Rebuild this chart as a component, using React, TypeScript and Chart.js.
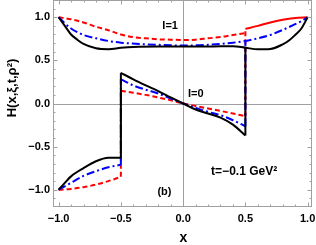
import React, { useEffect, useRef } from "react";
import { Chart, registerables } from "chart.js";

Chart.register(...registerables);

// ---- axis ticks ----
const xTickValues = [-1, -0.5, 0, 0.5, 1];
const yTickValues = [-1, -0.5, 0, 0.5, 1];

// ---- I = 1 curves ----
const i1BlackX = [-1, -0.95, -0.9, -0.85, -0.8, -0.7, -0.6, -0.5, -0.4, -0.2, 0, 0.2, 0.4, 0.5, 0.6, 0.7, 0.8, 0.85, 0.9, 0.95, 1];
const i1BlackY = [1.0, 0.9, 0.8, 0.74, 0.69, 0.64, 0.63, 0.645, 0.655, 0.66, 0.66, 0.66, 0.665, 0.647, 0.628, 0.632, 0.686, 0.73, 0.795, 0.87, 1.0];

const i1BlueX = [-1, -0.95, -0.9, -0.8, -0.7, -0.6, -0.5, -0.3, -0.2, 0, 0.2, 0.4, 0.5, 0.6, 0.7, 0.8, 0.9, 0.95, 1];
const i1BlueY = [1.0, 0.93, 0.87, 0.795, 0.756, 0.725, 0.705, 0.686, 0.68, 0.672, 0.68, 0.705, 0.725, 0.756, 0.795, 0.853, 0.92, 0.955, 1.0];

const i1RedX = [-1, -0.9, -0.8, -0.7, -0.6, -0.5, -0.4, -0.3, -0.2, -0.1, 0, 0.1, 0.2, 0.3, 0.4, 0.5];
const i1RedY = [1.0, 0.977, 0.94, 0.89, 0.85, 0.8, 0.77, 0.756, 0.744, 0.74, 0.736, 0.74, 0.756, 0.77, 0.795, 0.815];

// ---- I = 0 curves: outer left region (-1 .. -0.5) ----
const i0LeftX = [-1, -0.95, -0.9, -0.8, -0.7, -0.6, -0.5];
const i0LeftBlackY = [-1.0, -0.92, -0.845, -0.75, -0.67, -0.63, -0.63];
const i0LeftBlueY = [-1.0, -0.96, -0.92, -0.84, -0.785, -0.74, -0.71];
const i0LeftRedY = [-1.0, -0.997, -0.99, -0.97, -0.94, -0.9, -0.85];

// ---- I = 0 curves: central region (-0.5 .. 0.5) ----
const i0MidX = [-0.5, -0.4, -0.3, -0.2, -0.1, 0, 0.1, 0.2, 0.3, 0.4, 0.5];
const i0MidBlackY = [0.356, 0.28, 0.21, 0.143, 0.07, 0, -0.07, -0.116, -0.163, -0.245, -0.37];
const i0MidBlueY = [0.28, 0.21, 0.16, 0.116, 0.058, 0, -0.05, -0.097, -0.136, -0.194, -0.264];
const i0MidRedY = [0.147, 0.124, 0.1, 0.07, 0.038, 0, -0.028, -0.058, -0.086, -0.116, -0.148];

// ---- I = 0 red, outer right region (0.5 .. 1), solid ----
const i0RightRedX = [0.5, 0.6, 0.7, 0.8, 0.9, 1];
const i0RightRedY = [0.865, 0.9, 0.94, 0.97, 0.99, 1.0];

// ---- labels ----
const annotationTexts = ["I=1", "I=0", "t=\u22120.1 GeV\u00B2", "(b)"];
const annotationX = [-0.104, 0.101, 0.49, -0.15];
const annotationY = [0.9, 0.107, -0.794, -1.026];
const xTitle = "x";
const yTitle = "H(x,\u03BE,t,\u03C1\u00B2)";

const BLACK = "#000000";
const BLUE = "#0000ff";
const RED = "#ff0000";
const FRAME = "#a0a0a0";
const FONT = "'Liberation Sans', Arial, sans-serif";

const pts = (xs: number[], ys: number[]) => xs.map((x, i) => ({ x, y: ys[i] }));
const at = (xs: number[], ys: number[], v: number) => ys[xs.indexOf(v)];

function curve(data: any[], color: string, dash: number[]) {
  return {
    data,
    borderColor: color,
    backgroundColor: color,
    borderWidth: 2,
    borderDash: dash,
    pointRadius: 0,
    pointHoverRadius: 0,
    showLine: true,
    fill: false,
    tension: 0.4,
    cubicInterpolationMode: "monotone",
  };
}
function straight(data: any[], color: string, dash: number[]) {
  return {
    data,
    borderColor: color,
    backgroundColor: color,
    borderWidth: 2,
    borderDash: dash,
    pointRadius: 0,
    pointHoverRadius: 0,
    showLine: true,
    fill: false,
    tension: 0,
  };
}

const SOLID: number[] = [];
const DASHED = [5, 3];
const DASHDOT = [8, 3, 2, 3];

const framePlugin = {
  id: "framePlugin",
  beforeDatasetsDraw(chart: any) {
    const { ctx, chartArea: a, scales } = chart;
    const x0 = Math.round(scales.x.getPixelForValue(0)) + 0.5;
    const y0 = Math.round(scales.y.getPixelForValue(0)) + 0.5;
    ctx.save();
    ctx.strokeStyle = FRAME;
    ctx.lineWidth = 1;
    ctx.beginPath();
    ctx.moveTo(x0, a.top);
    ctx.lineTo(x0, a.bottom);
    ctx.moveTo(a.left, y0);
    ctx.lineTo(a.right, y0);
    ctx.stroke();
    ctx.restore();
  },
  afterDatasetsDraw(chart: any) {
    const { ctx, chartArea: a, scales } = chart;
    ctx.save();
    ctx.strokeStyle = FRAME;
    ctx.lineWidth = 1;
    ctx.strokeRect(a.left + 0.5, a.top + 0.5, a.right - a.left - 1, a.bottom - a.top - 1);
    ctx.beginPath();
    for (let i = -10; i <= 10; i++) {
      const v = i / 10;
      const len = i % 5 === 0 ? 4.5 : 2.5;
      const px = Math.round(scales.x.getPixelForValue(v)) + 0.5;
      ctx.moveTo(px, a.bottom);
      ctx.lineTo(px, a.bottom - len);
      ctx.moveTo(px, a.top);
      ctx.lineTo(px, a.top + len);
    }
    for (let i = -11; i <= 11; i++) {
      const v = i / 10;
      const len = i % 5 === 0 ? 4.5 : 2.5;
      const py = Math.round(scales.y.getPixelForValue(v)) + 0.5;
      ctx.moveTo(a.left, py);
      ctx.lineTo(a.left + len, py);
      ctx.moveTo(a.right, py);
      ctx.lineTo(a.right - len, py);
    }
    ctx.stroke();
    ctx.restore();
  },
};

const textPlugin = {
  id: "textPlugin",
  afterDraw(chart: any) {
    const { ctx, chartArea: a, scales } = chart;
    ctx.save();
    ctx.fillStyle = BLACK;
    ctx.textAlign = "center";
    ctx.textBaseline = "middle";
    ctx.font = `bold 11px ${FONT}`;
    annotationTexts.forEach((t, i) => {
      if (i === 2) ctx.font = `bold 12px ${FONT}`;
      else ctx.font = `bold 11px ${FONT}`;
      ctx.fillText(t, scales.x.getPixelForValue(annotationX[i]), scales.y.getPixelForValue(annotationY[i]));
    });
    ctx.font = `bold 14px ${FONT}`;
    ctx.fillText(xTitle, (a.left + a.right) / 2 + 1, 238);
    ctx.translate(12, 88);
    ctx.rotate(-Math.PI / 2);
    ctx.font = `bold 13px ${FONT}`;
    ctx.fillText(yTitle, 0, 0);
    ctx.restore();
  },
};

const fmt = (v: number) => (v < 0 ? "\u2212" : "") + Math.abs(v).toFixed(1);

export default function App() {
  const ref = useRef<HTMLCanvasElement | null>(null);
  useEffect(() => {
    document.body.style.margin = "0";
    if (!ref.current) return;

    const i1BlackAtHalf = at(i1BlackX, i1BlackY, 0.5);
    const i1BlueAtHalf = at(i1BlueX, i1BlueY, 0.5);

    const datasets: any[] = [
      // black (top)
      curve(pts(i1BlackX, i1BlackY), BLACK, SOLID),
      curve(pts(i0LeftX, i0LeftBlackY), BLACK, SOLID),
      straight(pts([-0.5, -0.5], [i0LeftBlackY[i0LeftBlackY.length - 1], i0MidBlackY[0]]), BLACK, SOLID),
      curve(pts(i0MidX, i0MidBlackY), BLACK, SOLID),
      straight(pts([0.5, 0.5], [i0MidBlackY[i0MidBlackY.length - 1], i1BlackAtHalf]), BLACK, SOLID),
      // blue
      curve(pts(i1BlueX, i1BlueY), BLUE, DASHDOT),
      curve(pts(i0LeftX, i0LeftBlueY), BLUE, DASHDOT),
      straight(pts([-0.5, -0.5], [i0LeftBlueY[i0LeftBlueY.length - 1], i0MidBlueY[0]]), BLUE, DASHDOT),
      curve(pts(i0MidX, i0MidBlueY), BLUE, DASHDOT),
      straight(pts([0.5, 0.5], [i0MidBlueY[i0MidBlueY.length - 1], i1BlueAtHalf]), BLUE, DASHDOT),
      // red
      curve(pts(i1RedX, i1RedY), RED, DASHED),
      curve(pts(i0LeftX, i0LeftRedY), RED, DASHED),
      straight(pts([-0.5, -0.5], [i0LeftRedY[i0LeftRedY.length - 1], i0MidRedY[0]]), RED, DASHED),
      curve(pts(i0MidX, i0MidRedY), RED, DASHED),
      straight(pts([0.5, 0.5], [i0MidRedY[i0MidRedY.length - 1], i0RightRedY[0]]), RED, DASHED),
      curve(pts(i0RightRedX, i0RightRedY), RED, SOLID),
    ];

    const chart = new Chart(ref.current, {
      type: "scatter",
      data: { datasets },
      options: {
        responsive: false,
        animation: false,
        events: [],
        layout: { padding: { left: 0, right: 4, top: 0, bottom: 0 } },
        plugins: { legend: { display: false }, tooltip: { enabled: false }, title: { display: false } },
        scales: {
          x: {
            type: "linear",
            min: -1.045,
            max: 1.035,
            afterBuildTicks: (s: any) => {
              s.ticks = xTickValues.map((v) => ({ value: v }));
            },
            afterFit: (s: any) => {
              s.height = 38;
              s.paddingLeft = 0;
              s.paddingRight = 0;
            },
            grid: { display: false, drawTicks: false },
            border: { display: false },
            ticks: {
              padding: 5,
              maxRotation: 0,
              autoSkip: false,
              color: BLACK,
              font: { family: FONT, size: 11, weight: "bold" },
              callback: (v: any) => fmt(Number(v)),
            },
          },
          y: {
            type: "linear",
            min: -1.2,
            max: 1.2,
            afterBuildTicks: (s: any) => {
              s.ticks = yTickValues.map((v) => ({ value: v }));
            },
            afterFit: (s: any) => {
              s.width = 53;
              s.paddingTop = 0;
              s.paddingBottom = 0;
            },
            grid: { display: false, drawTicks: false },
            border: { display: false },
            ticks: {
              padding: 3,
              autoSkip: false,
              color: BLACK,
              font: { family: FONT, size: 11, weight: "bold" },
              callback: (v: any) => fmt(Number(v)),
            },
          },
        },
      } as any,
      plugins: [framePlugin, textPlugin],
    });
    return () => chart.destroy();
  }, []);

  return (
    <div style={{ width: 316, height: 245, background: "#ffffff" }}>
      <canvas ref={ref} width={316} height={245} style={{ display: "block" }} />
    </div>
  );
}
